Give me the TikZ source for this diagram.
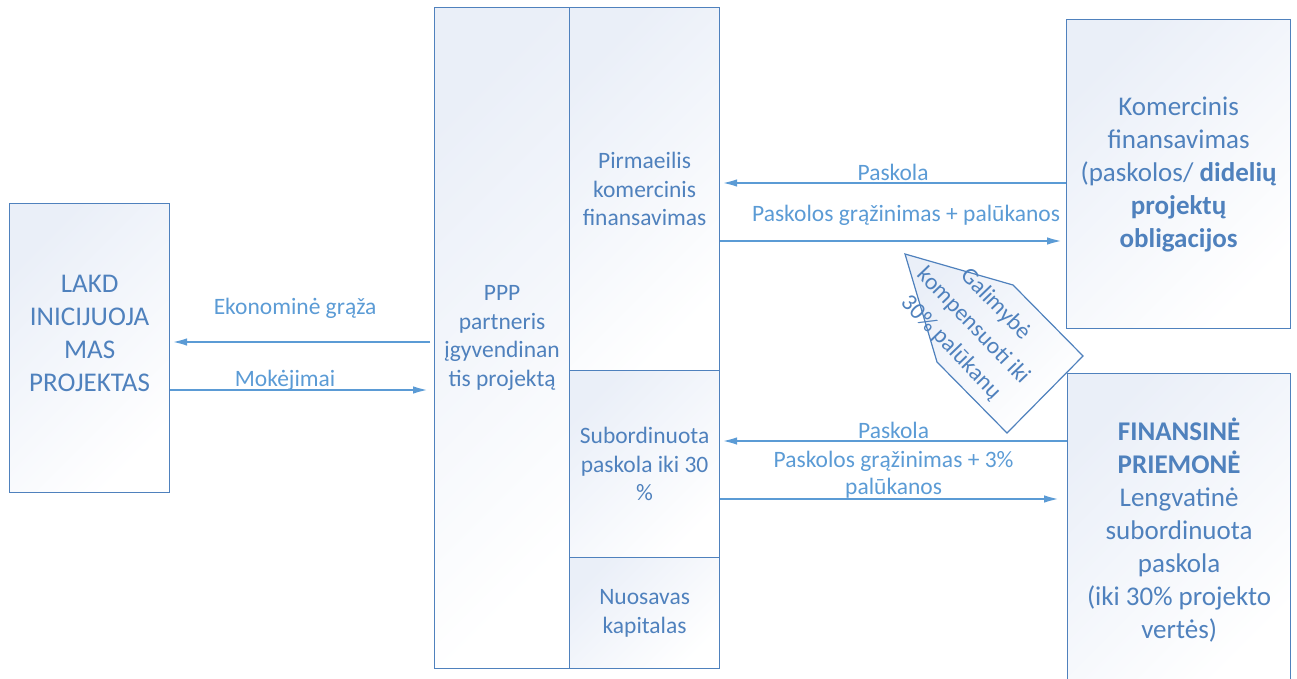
\documentclass[tikz,border=0pt]{standalone}
\usepackage{fontspec}
\setmainfont{Carlito}
\usetikzlibrary{arrows.meta}
\definecolor{boxline}{RGB}{79,129,189}
\definecolor{boxtext}{RGB}{79,129,189}
\definecolor{linkblue}{RGB}{91,155,213}
\definecolor{boxfill}{RGB}{234,239,248}
\begin{document}
\begin{tikzpicture}[x=1pt,y=-1pt,
    box/.style={draw=boxline, line width=1.2pt, top color=boxfill, bottom color=white,
      shading angle=45, anchor=north west, inner sep=0pt, align=center, text=boxtext},
    big/.style={font=\fontsize{27}{33}\selectfont},
    small/.style={font=\fontsize{23.5}{28.7}\selectfont},
    flow/.style={draw=linkblue, line width=2.8pt, -{Latex[length=17pt,width=7.5pt]}},
    lbl/.style={text=linkblue, font=\fontsize{23.5}{27.5}\selectfont, align=center, inner sep=0pt}]
  \useasboundingbox (0,0) rectangle (1297,679);

  % boxes
  \node[box, minimum width=160, minimum height=289,
    label={[big, text=boxtext, align=center, yshift=15]center:LAKD\\INICIJUOJA\\MAS\\PROJEKTAS}]
    (lakd) at (9,203) {};
  \node[box, small, minimum width=135, minimum height=661] (ppp) at (434,7)
    {PPP\\partneris\\įgyvendinan\\tis projektą};
  \node[box, small, minimum width=150, minimum height=363] (pirm) at (569,7)
    {Pirmaeilis\\komercinis\\finansavimas};
  \node[box, small, minimum width=150, minimum height=187] (sub) at (569,370)
    {Subordinuota\\paskola iki 30\\\%};
  \node[box, small, minimum width=150, minimum height=111] (nuos) at (569,557)
    {Nuosavas\\kapitalas};
  \node[box, big, minimum width=224, minimum height=309] (kom) at (1066,19)
    {Komercinis\\finansavimas\\(paskolos/ \textbf{didelių}\\\textbf{projektų}\\\textbf{obligacijos}};
  \node[box, big, minimum width=223, minimum height=312] (fin) at (1067,373)
    {\textbf{FINANSINĖ}\\\textbf{PRIEMONĖ}\\Lengvatinė\\subordinuota\\paskola\\(iki 30\% projekto\\vertės)};

  % arrow heights
  \coordinate (yLoanA) at (0,183);
  \coordinate (yRepA) at (0,241);
  \coordinate (yEcon) at (0,342);
  \coordinate (yPay) at (0,390);
  \coordinate (yLoanB) at (0,441);
  \coordinate (yRepB) at (0,499);

  % flows
  \draw[flow] (kom.west |- yLoanA) -- (pirm.east |- yLoanA)
    node[lbl, midway, yshift=11] {Paskola};
  \draw[flow, shorten >=2pt] (pirm.east |- yRepA) -- (kom.west |- yRepA)
    node[lbl, midway, yshift=26, xshift=13] {Paskolos grąžinimas + palūkanos};
  \draw[flow, shorten <=4pt] (ppp.west |- yEcon) -- (lakd.east |- yEcon)
    node[lbl, midway, yshift=34, xshift=-7] {Ekonominė grąža};
  \draw[flow, shorten >=4pt] (lakd.east |- yPay) -- (ppp.west |- yPay)
    node[lbl, midway, yshift=10, xshift=-17] {Mokėjimai};
  \draw[flow] (fin.west |- yLoanB) -- (sub.east |- yLoanB)
    node[lbl, midway, yshift=11] {Paskola};
  \draw[flow, shorten >=6pt] (sub.east |- yRepB) -- (fin.west |- yRepB)
    node[lbl, midway, yshift=24.5] {Paskolos grąžinimas + 3\%\\palūkanos};

  % pentagon arrow
  \draw[draw=boxline, line width=1.2pt, top color=boxfill, bottom color=white, shading angle=45]
    (905,254) -- (1013,285) -- (1083,356) -- (1007,433) -- (937,362) -- cycle;
  \node[rotate=-46, text=boxtext, font=\fontsize{23.5}{31}\selectfont, align=center, inner sep=0pt]
    (galim) at (973,326) {Galimybė\\kompensuoti iki\\30\% palūkanų};
\end{tikzpicture}
\end{document}
